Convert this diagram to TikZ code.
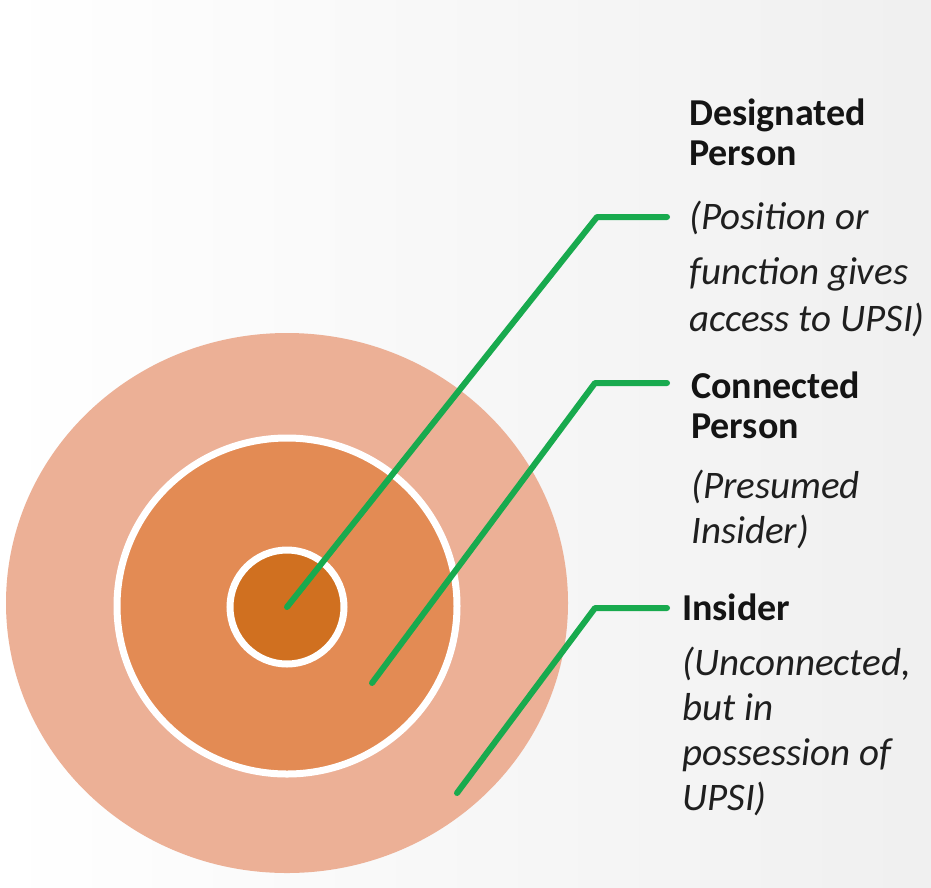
\documentclass[tikz,border=0pt]{standalone}
\usepackage{fontspec}
\setmainfont{Carlito}
\usetikzlibrary{shapes.geometric, positioning}

\definecolor{ringout}{RGB}{236,176,150}
\definecolor{ringmid}{RGB}{227,139,84}
\definecolor{ringin}{RGB}{208,112,32}
\definecolor{leader}{RGB}{24,170,78}

\tikzset{
  ring/.style={ellipse, inner sep=0pt, draw=white, line width=7pt},
  leadline/.style={draw=leader, line width=6pt, line cap=round, line join=round},
  % base anchor sits on the last line of a multi-line node
  title/.style={anchor=base west, align=left, inner sep=0pt, text=black!92,
    font=\bfseries\fontsize{38}{40}\selectfont},
  desc/.style={anchor=base west, align=left, inner sep=0pt, text=black!88,
    font=\itshape\fontsize{39}{45}\selectfont},
}

\begin{document}
\begin{tikzpicture}[x=1pt, y=-1pt]
  \useasboundingbox (0,0) rectangle (931,887);
  \shade[left color=white, right color=black!6] (0,0) rectangle (931,887);

  % the three rings
  \node[ellipse, inner sep=0pt, fill=ringout, minimum width=562pt, minimum height=540pt] (insider) at (287,603) {};
  \node[ring, fill=ringmid, minimum width=340pt, minimum height=336pt] (connected) at (287,606) {};
  \node[ring, fill=ringin, minimum size=114pt] (core) at (287,607) {};

  % labels
  \node[title] (dp-title) at (689,165) {Designated\\Person};
  \node[desc] (dp-desc) at (689,331) {(Position or\\[10pt]function gives\\[2pt]access to UPSI)};
  \node[title] (cp-title) at (691,438) {Connected\\Person};
  \node[desc] (cp-desc) at (691,543) {(Presumed\\Insider)};
  \node[title] (in-title) at (682,620) {Insider};
  \node[desc] (in-desc) at (682,810) {(Unconnected,\\but in\\possession of\\UPSI)};

  % leader lines
  \coordinate (dp-bend) at (597,217);
  \coordinate (dp-end) at (667,217);
  \coordinate (cp-tip) at (372,683);
  \coordinate (cp-bend) at (595,383);
  \coordinate (cp-end) at (667,383);
  \coordinate (in-tip) at (457,793);
  \coordinate (in-bend) at (595,608);
  \coordinate (in-end) at (667,608);

  \draw[leadline] (core.center) -- (dp-bend) -- (dp-end);
  \draw[leadline] (cp-tip) -- (cp-bend) -- (cp-end);
  \draw[leadline] (in-tip) -- (in-bend) -- (in-end);
\end{tikzpicture}
\end{document}
